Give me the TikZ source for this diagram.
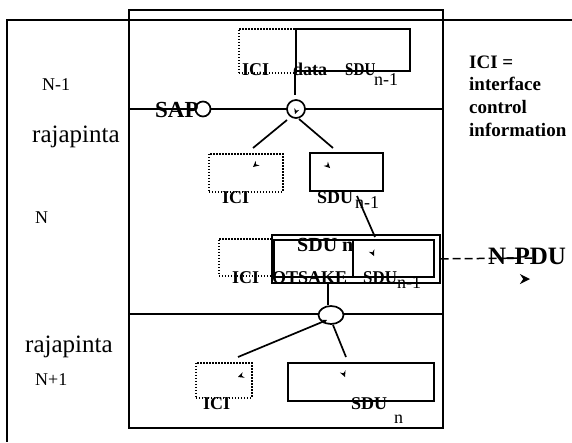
\documentclass[tikz,border=0pt]{standalone}
\usepackage{fontspec}
\setmainfont{Liberation Serif}
\usetikzlibrary{shapes.geometric}

% small filled arrow marks: x, y, angle, scale
\newcommand\arrowmark[4]{%
  \fill[shift={(#1,#2)},rotate=#3,scale=#4] (0,0) -- (-6,3) -- (-4,0) -- (-6,-3) -- cycle;}

\tikzset{
  frame/.style={line width=1.7pt},
  conn/.style={line width=1.7pt},
  solidbox/.style={draw, line width=1.7pt, inner sep=0pt, anchor=north west},
  dotbox/.style={draw, line width=1.5pt, dash pattern=on 1.5pt off 1.5pt, inner sep=0pt, anchor=north west},
  ring/.style={draw, circle, line width=1.7pt, fill=white, inner sep=0pt},
  txt/.style={inner sep=0pt, anchor=base west, font=\fontsize{18}{20}\selectfont},
  btxt/.style={inner sep=0pt, anchor=base west, font=\fontsize{18}{20}\selectfont\bfseries},
}

\begin{document}
\begin{tikzpicture}[x=1pt,y=-1pt]
\useasboundingbox[fill=white] (0,0) rectangle (572,442);

% outer frame and central column
\draw[frame] (572,20) -- (7,20) -- (7,442);
\draw[frame] (129,10) rectangle (443,428);
\draw[frame] (129,109) -- (443,109);
\draw[frame] (129,314) -- (443,314);

% layer N-1: ICI + data
\node[dotbox, minimum width=57pt, minimum height=44pt] (icitop) at (238,28) {};
\node[solidbox, minimum width=114pt, minimum height=42pt] (sdutop) at (295,28) {};

% layer N: ICI and SDU
\node[dotbox, minimum width=74pt, minimum height=38pt] (icimid) at (208,153) {};
\node[solidbox, minimum width=73pt, minimum height=38pt] (sdumid) at (309,152) {};

% N-PDU: ICI + header + SDU
\node[dotbox, minimum width=53pt, minimum height=37pt] (icipdu) at (218,238) {};
\node[solidbox, minimum width=168pt, minimum height=48pt] (pduouter) at (271,234) {};
\node[solidbox, minimum width=160pt, minimum height=37pt] (pduinner) at (273,239) {};
\coordinate (divtop) at (353,239);
\coordinate (divbot) at (353,276);
\draw[conn] (divtop) -- (divbot);

% layer N+1: ICI and SDU
\node[dotbox, minimum width=56pt, minimum height=35pt] (icibot) at (195,362) {};
\node[solidbox, minimum width=146pt, minimum height=38pt] (sdubot) at (287,362) {};

% connector end points
\coordinate (c2in) at (295,95);
\coordinate (l1a) at (287,120);
\coordinate (l1b) at (253,148);
\coordinate (l2a) at (299,119);
\coordinate (l2b) at (333,148);
\coordinate (l3a) at (357,196);
\coordinate (l3b) at (375,237);
\coordinate (l4a) at (328,282);
\coordinate (l4b) at (328,305);
\coordinate (l5a) at (327,320);
\coordinate (l5b) at (238,357);
\coordinate (l6a) at (333,325);
\coordinate (l6b) at (346,357);
\coordinate (npdu) at (532,258);

\draw[conn] (sdutop.south west) -- (c2in);
\draw[conn] (l1a) -- (l1b);
\draw[conn] (l2a) -- (l2b);
\draw[conn] (l3a) -- (l3b);
\draw[conn] (l4a) -- (l4b);
\draw[conn] (l5a) -- (l5b);
\draw[conn] (l6a) -- (l6b);
\draw[line width=1.5pt, dash pattern=on 8pt off 4pt] (pduouter.east) -- (npdu);

% access points
\node[ring, minimum size=15pt] (sap) at (203,109) {};
\node[ring, minimum size=18pt] (c2) at (296,109) {};
\node[draw, ellipse, line width=1.7pt, fill=white, inner sep=0pt,
      minimum width=25pt, minimum height=18pt] (c3) at (331,315) {};

% arrow marks
\arrowmark{295}{114}{250}{0.9}
\arrowmark{253}{167}{220}{1}
\arrowmark{330}{168}{-45}{1}
\arrowmark{374}{256}{-66}{1}
\arrowmark{327}{320}{25}{0.8}
\arrowmark{238}{377}{200}{1}
\arrowmark{345}{377}{-68}{1}
\arrowmark{530}{279}{0}{1.7}

% side labels
\node[txt] (n1) at (42,90) {N-1};
\node[txt, font=\fontsize{25}{28}\selectfont] (raja1) at (32,142) {rajapinta};
\node[txt] (nn) at (35,223) {N};
\node[txt, font=\fontsize{25}{28}\selectfont] (raja2) at (25,352) {rajapinta};
\node[txt] (np1) at (35,385) {N+1};

\node[btxt, font=\fontsize{23}{26}\selectfont\bfseries] (saplbl) at (155,117) {SAP};

% legend
\node[btxt, font=\fontsize{19}{22}\selectfont\bfseries] (leg1) at (469,68) {ICI =};
\node[btxt, font=\fontsize{19}{22}\selectfont\bfseries] (leg2) at (469,90) {interface};
\node[btxt, font=\fontsize{19}{22}\selectfont\bfseries] (leg3) at (469,113) {control};
\node[btxt, font=\fontsize{19}{22}\selectfont\bfseries] (leg4) at (469,136) {information};

% box labels, layer N-1
\node[btxt] (t1) at (242,75) {ICI};
\node[btxt] (t2) at (293,75) {data};
\node[btxt] (t3) at (345,75) {\scalebox{0.84}[1]{SDU}};
\node[txt] (t4) at (374,85) {n-1};

% box labels, layer N
\node[btxt] (t5) at (222,203) {ICI};
\node[btxt] (t6) at (317,203) {SDU};
\node[txt] (t7) at (355,208) {n-1};

\node[btxt, font=\fontsize{20}{22}\selectfont\bfseries] (t8) at (297,251) {SDU n};
\node[btxt] (t9) at (232,283) {ICI};
\node[btxt] (t10) at (272,283) {OTSAKE};
\node[btxt] (t11) at (363,283) {\scalebox{0.94}[1]{SDU}};
\node[txt] (t12) at (397,288) {n-1};
\node[btxt, font=\fontsize{25}{28}\selectfont\bfseries] (pdulbl) at (488,264) {N-PDU};

% box labels, layer N+1
\node[btxt] (t13) at (203,409) {ICI};
\node[btxt] (t14) at (351,409) {SDU};
\node[txt] (t15) at (394,423) {n};
\end{tikzpicture}
\end{document}
